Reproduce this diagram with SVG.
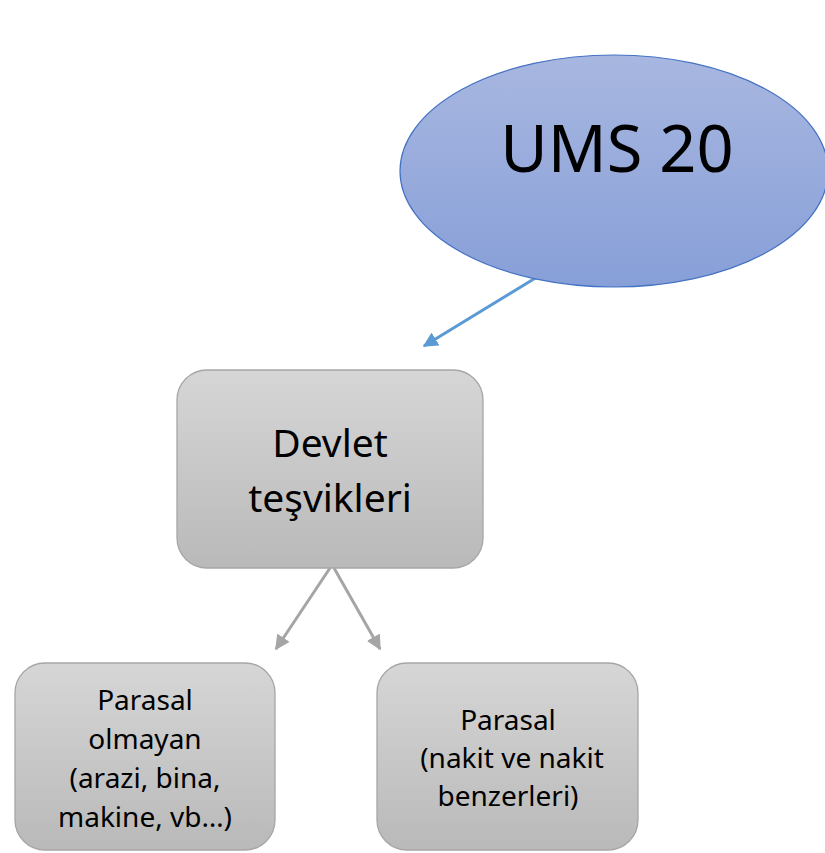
<svg xmlns="http://www.w3.org/2000/svg" width="825" height="853" viewBox="0 0 825 853">
<defs>
<linearGradient id="gBlue" x1="0" y1="0" x2="0" y2="1">
<stop offset="0" stop-color="#a8b7e0"/>
<stop offset="1" stop-color="#879fd8"/>
</linearGradient>
<linearGradient id="gGray" x1="0" y1="0" x2="0" y2="1">
<stop offset="0" stop-color="#d6d6d6"/>
<stop offset="1" stop-color="#b9b9b9"/>
</linearGradient>
<marker id="ab" viewBox="0 0 10 10" refX="9" refY="5" markerWidth="5" markerHeight="5" orient="auto" markerUnits="strokeWidth">
<path d="M0,0 L10,5 L0,10 Z" fill="#5b9bd5"/>
</marker>
<marker id="ag" viewBox="0 0 10 10" refX="9" refY="5" markerWidth="5" markerHeight="5" orient="auto" markerUnits="strokeWidth">
<path d="M0,0 L10,5 L0,10 Z" fill="#a5a5a5"/>
</marker>
</defs>
<style>
.box{fill:url(#gGray);stroke:#a6a6a6;stroke-width:1.3}
.t{font-family:"Noto Sans","Open Sans",sans-serif;fill:#000;text-anchor:middle}
</style>
<rect width="825" height="853" fill="#fff"/>
<g id="connectors">
<line x1="542" y1="274" x2="424" y2="346" stroke="#5b9bd5" stroke-width="3" marker-end="url(#ab)"/>
<line x1="330" y1="568" x2="276" y2="649" stroke="#a5a5a5" stroke-width="3" marker-end="url(#ag)"/>
<line x1="334" y1="568" x2="380" y2="649" stroke="#a5a5a5" stroke-width="3" marker-end="url(#ag)"/>
</g>
<g id="ums20">
<ellipse cx="614" cy="171" rx="214" ry="116" fill="url(#gBlue)" stroke="#4472c4" stroke-width="1.2"/>
<text class="t" x="617" y="172" font-size="65">UMS 20</text>
</g>
<g id="devlet">
<rect class="box" x="177" y="370" width="306" height="198" rx="30"/>
<text class="t" x="330" y="457" font-size="39">Devlet</text>
<text class="t" x="330" y="512" font-size="39">teşvikleri</text>
</g>
<g id="parasal-olmayan">
<rect class="box" x="15" y="663" width="260" height="187" rx="30"/>
<text class="t" font-size="28"><tspan x="145" y="710">Parasal</tspan><tspan x="145" y="749">olmayan</tspan><tspan x="145" y="788">(arazi, bina,</tspan><tspan x="145" y="827">makine, vb…)</tspan></text>
</g>
<g id="parasal">
<rect class="box" x="377" y="663" width="261" height="187" rx="30"/>
<text class="t" font-size="28"><tspan x="508" y="730">Parasal</tspan><tspan x="512" y="768">(nakit ve nakit</tspan><tspan x="508" y="806">benzerleri)</tspan></text>
</g>
</svg>
